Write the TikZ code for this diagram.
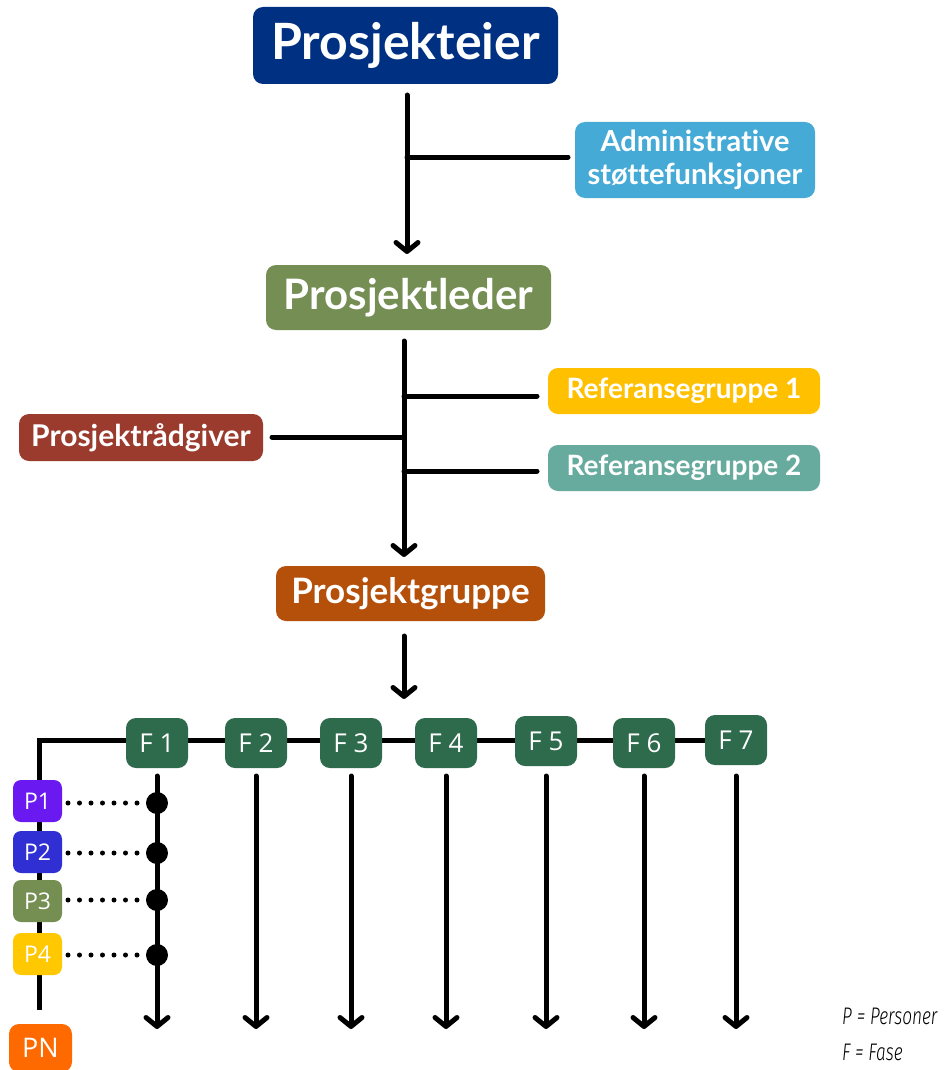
\documentclass[tikz,border=0pt]{standalone}
\usepackage{fontspec}
\setmainfont[Ligatures=NoCommon]{Lato}
\newfontfamily\lightfont{Open Sans}
\newfontfamily\legendfont[FakeStretch=0.72]{Fira Sans Light Italic}
\usetikzlibrary{arrows.meta,backgrounds}
\definecolor{cEier}{HTML}{003082}
\definecolor{cAdmin}{HTML}{45AAD6}
\definecolor{cLeder}{HTML}{748E54}
\definecolor{cRef1}{HTML}{FFC000}
\definecolor{cRef2}{HTML}{67AB9F}
\definecolor{cRaad}{HTML}{9A3B2E}
\definecolor{cGruppe}{HTML}{B5500B}
\definecolor{cFase}{HTML}{2E6A4C}
\definecolor{cP1}{HTML}{6A1AF0}
\definecolor{cP2}{HTML}{2F2FD4}
\definecolor{cP3}{HTML}{758E52}
\definecolor{cP4}{HTML}{FFC800}
\definecolor{cPN}{HTML}{FF6A00}
\begin{document}
\begin{tikzpicture}[x=1pt,y=-1pt,
  box/.style={rounded corners=10pt, text=white, inner sep=0pt, align=center, font=\bfseries},
  fbox/.style={box, fill=cFase, minimum width=62pt, minimum height=50pt, font=\lightfont\fontsize{26}{26}\selectfont},
  pbox/.style={box, rounded corners=8pt, minimum width=49pt, minimum height=42pt, font=\lightfont\fontsize{23}{23}\selectfont},
  conn/.style={line width=5pt, line cap=round},
  arr/.style={conn, -{Straight Barb[length=9pt,width=22pt,line cap=round,line join=round]}},
  dotted line/.style={line width=5pt, line cap=round, dash pattern=on 0pt off 11.5pt},
]
\useasboundingbox (0,0) rectangle (944,1070);

\node[box, fill=cEier, minimum width=305pt, minimum height=77pt, font=\bfseries\fontsize{50}{50}\selectfont] (eier) at (405.5,45.5) {Prosjekteier};
\node[box, fill=cAdmin, minimum width=240pt, minimum height=76pt, font=\bfseries\fontsize{29}{33}\selectfont] (admin) at (695,160) {Administrative\\støttefunksjoner};
\node[box, fill=cLeder, minimum width=285pt, minimum height=65pt, font=\bfseries\fontsize{42}{42}\selectfont] (leder) at (408.5,297.5) {Prosjektleder};
\node[box, fill=cRef1, minimum width=272pt, minimum height=46pt, font=\bfseries\fontsize{28}{28}\selectfont] (ref1) at (684,391) {Referansegruppe 1};
\node[box, fill=cRef2, minimum width=272pt, minimum height=46pt, font=\bfseries\fontsize{28}{28}\selectfont] (ref2) at (684,468) {Referansegruppe 2};
\node[box, fill=cRaad, minimum width=244pt, minimum height=47pt, font=\bfseries\fontsize{30}{30}\selectfont] (raad) at (141,437.5) {Prosjektrådgiver};
\node[box, fill=cGruppe, minimum width=269pt, minimum height=55pt, font=\bfseries\fontsize{35}{35}\selectfont] (gruppe) at (410.5,593.5) {Prosjektgruppe};

\node[fbox] (f1) at (157,743) {F 1};
\node[fbox] (f2) at (256,743) {F 2};
\node[fbox] (f3) at (351,743) {F 3};
\node[fbox] (f4) at (446,743) {F 4};
\node[fbox] (f5) at (546,741) {F 5};
\node[fbox] (f6) at (644,743) {F 6};
\node[fbox] (f7) at (736,740) {F 7};

\node[pbox, fill=cP1] (p1) at (37.5,801) {P1};
\node[pbox, fill=cP2] (p2) at (37.5,852) {P2};
\node[pbox, fill=cP3] (p3) at (37.5,901) {P3};
\node[pbox, fill=cP4] (p4) at (37.5,954) {P4};
\node[box, fill=cPN, rounded corners=10pt, minimum width=63pt, minimum height=48pt, font=\lightfont\fontsize{27}{27}\selectfont] (pn) at (40.5,1048) {PN};

\node[anchor=west, inner sep=0pt, font=\legendfont\fontsize{24}{24}\selectfont] (legP) at (842,1016) {P = Personer};
\node[anchor=west, inner sep=0pt, font=\legendfont\fontsize{24}{24}\selectfont] (legF) at (842,1052) {F = Fase};

% junctions
\coordinate (j1) at (407,157);
\coordinate (j2) at (404,396);
\coordinate (j3) at (404,437);
\coordinate (j4) at (404,471);
\coordinate (corner) at (39,740);
\coordinate (lend) at (39,1010);

\draw[arr] (407,95) -- (407,254);
\draw[conn] (j1) -- (568,157);
\draw[arr] (404,341) -- (404,557);
\draw[conn] (j2) -- (537,396);
\draw[conn] (j4) -- (537,471);
\draw[conn] (272,437) -- (j3);
\draw[arr] (404,636) -- (404,699);

\begin{pgfonlayer}{background}
\draw[line width=5pt, line join=miter] (lend) -- (corner) -- (f7.west);
\end{pgfonlayer}

\foreach \f in {f1,f2,f3,f4,f5,f6,f7}{
  \draw[arr] (\f.south |- 0,776) -- (\f.south |- 0,1029);
}
\foreach \p/\y in {p1/803,p2/853,p3/900,p4/955}{
  \draw[dotted line] (68,\y) -- (150,\y);
  \fill (157,\y) circle (11pt);
}
\end{tikzpicture}
\end{document}
